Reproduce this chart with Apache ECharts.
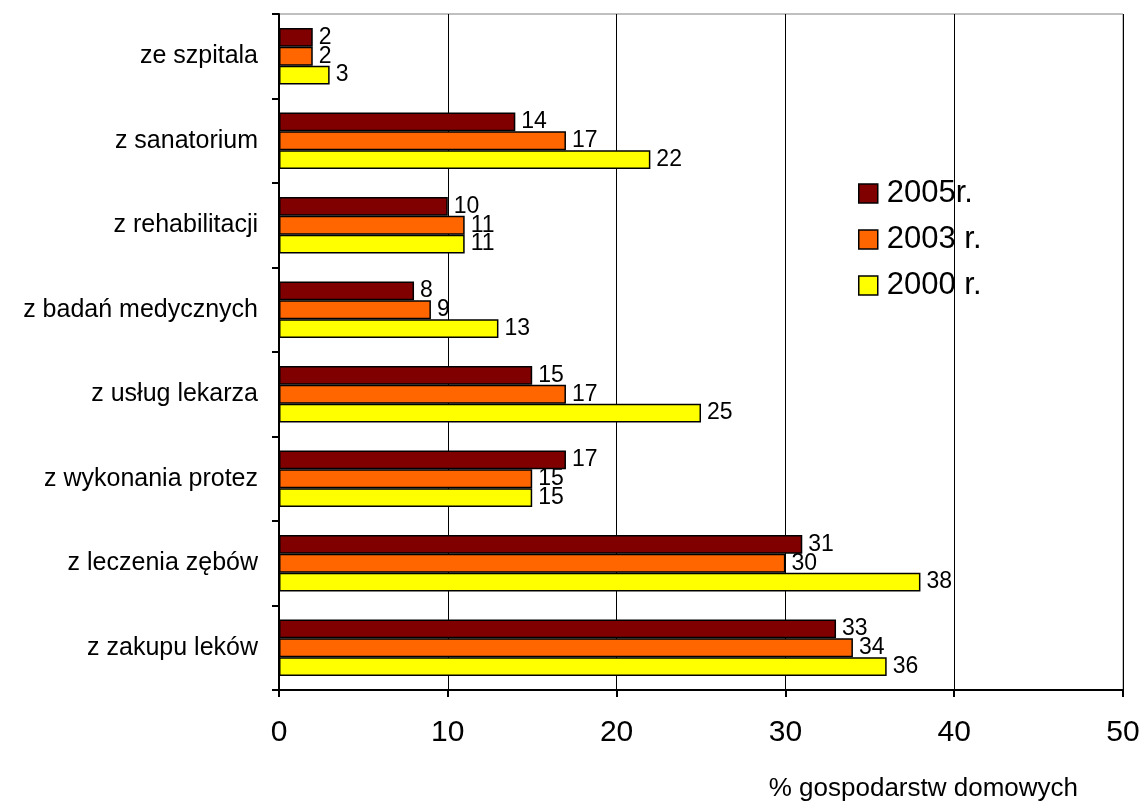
<!DOCTYPE html>
<html>
<head>
<meta charset="utf-8">
<script src="https://cdn.jsdelivr.net/npm/echarts@6/dist/echarts.min.js"></script>
<style>
  html, body { margin: 0; padding: 0; background: #fff; }
  #chart { width: 1143px; height: 805px; }
</style>
</head>
<body>
<div id="chart"></div>
<script>
// Categories of household health spending (top to bottom)
const categories = [
  'ze szpitala',
  'z sanatorium',
  'z rehabilitacji',
  'z badań medycznych',
  'z usług lekarza',
  'z wykonania protez',
  'z leczenia zębów',
  'z zakupu leków'
];

// Share of households (%) per year
const seriesNames = ['2005r.', '2003 r.', '2000 r.'];
const values2005 = [2, 14, 10, 8, 15, 17, 31, 33];
const values2003 = [2, 17, 11, 9, 17, 15, 30, 34];
const values2000 = [3, 22, 11, 13, 25, 15, 38, 36];
const xTicks = [0, 10, 20, 30, 40, 50];
const axisTitle = '% gospodarstw domowych';

const colors = ['#800000', '#FF6600', '#FFFF00'];
const font = 'Liberation Sans, Arial, sans-serif';

function barSeries(name, data, color) {
  return {
    name: name,
    type: 'bar',
    data: data,
    barGap: '0%',
    barCategoryGap: '33%',
    itemStyle: { color: color, borderColor: '#000', borderWidth: 1.5 },
    label: {
      show: true,
      position: 'right',
      distance: 6,
      color: '#000',
      fontFamily: font,
      fontSize: 23
    }
  };
}

const chart = echarts.init(document.getElementById('chart'), null, { renderer: 'canvas' });
chart.setOption({
  animation: false,
  backgroundColor: '#fff',
  grid: {
    left: 279, right: 20, top: 14, bottom: 115,
    show: true, borderColor: '#808080', borderWidth: 1, backgroundColor: 'transparent'
  },
  legend: {
    orient: 'vertical',
    left: 858,
    top: 178,
    padding: 0,
    itemWidth: 19,
    itemHeight: 19,
    itemGap: 15,
    icon: 'rect',
    data: seriesNames,
    itemStyle: { borderColor: '#000', borderWidth: 1.5 },
    textStyle: { fontFamily: font, fontSize: 31, color: '#000', padding: [0, 0, 0, 4] }
  },
  xAxis: {
    type: 'value',
    min: xTicks[0],
    max: xTicks[xTicks.length - 1],
    interval: 10,
    axisLine: { show: true, lineStyle: { color: '#000', width: 2 } },
    axisTick: { show: true, inside: false, length: 7, lineStyle: { color: '#000', width: 2 } },
    axisLabel: { fontFamily: font, fontSize: 30, color: '#000', margin: 28 },
    splitLine: { show: true, lineStyle: { color: '#000', width: 1 } }
  },
  yAxis: {
    type: 'category',
    data: categories,
    inverse: true,
    axisLine: { show: true, lineStyle: { color: '#000', width: 2 } },
    axisTick: { show: true, inside: false, length: 7, lineStyle: { color: '#000', width: 2 } },
    axisLabel: { fontFamily: font, fontSize: 25, color: '#000', margin: 21 },
    splitLine: { show: false }
  },
  graphic: [{
    type: 'text',
    right: 65,
    top: 776,
    style: { text: axisTitle, fontFamily: font, fontSize: 26, fill: '#000' }
  }],
  series: [
    barSeries(seriesNames[0], values2005, colors[0]),
    barSeries(seriesNames[1], values2003, colors[1]),
    barSeries(seriesNames[2], values2000, colors[2])
  ]
});
</script>
</body>
</html>
